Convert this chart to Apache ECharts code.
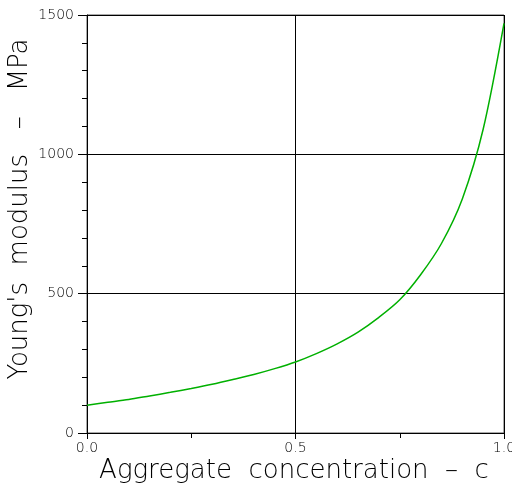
<!DOCTYPE html>
<html>
<head>
<meta charset="utf-8">
<script src="https://cdn.jsdelivr.net/npm/echarts@6/dist/echarts.min.js"></script>
<style>
  html, body { margin: 0; padding: 0; background: #fff; }
  #chart { width: 512px; height: 486px; }
</style>
</head>
<body>
<div id="chart"></div>
<script>
// aggregate concentration c and Young's modulus (MPa)
const concentration = [0, 0.05, 0.1, 0.15, 0.2, 0.25, 0.3, 0.35, 0.4, 0.45, 0.5, 0.55, 0.6, 0.65, 0.7, 0.75, 0.8, 0.85, 0.9, 0.95, 1.0];
const modulus = [100, 110, 120, 133, 146, 160, 175, 192, 210, 231, 255, 285, 320, 362, 415, 478, 568, 680, 840, 1090, 1470];
const yTicks = [0, 500, 1000, 1500];
const xTicks = [0, 0.5, 1.0];

const font = "DejaVu Sans";
const chart = echarts.init(document.getElementById("chart"));

chart.setOption({
  backgroundColor: "#fff",
  animation: false,
  grid: {
    left: 87,
    right: 8,
    top: 15,
    bottom: 53,
    outerBoundsMode: "none",
    containLabel: false,
    show: true,
    borderColor: "#555",
    borderWidth: 1,
  },
  xAxis: {
    type: "value",
    min: xTicks[0],
    max: xTicks[xTicks.length - 1],
    interval: 0.5,
    axisLine: { lineStyle: { color: "#000", width: 1 } },
    axisTick: { show: true, length: 6, lineStyle: { color: "#000" } },
    minorTick: { show: true, splitNumber: 2, length: 5, lineStyle: { color: "#000" } },
    splitLine: { show: true, lineStyle: { color: "#000", width: 1 } },
    axisLabel: {
      color: "#000",
      fontFamily: font,
      fontWeight: 200,
      fontSize: 14,
      margin: 8,
      formatter: (v) => v.toFixed(1),
    },
  },
  yAxis: {
    type: "value",
    min: yTicks[0],
    max: yTicks[yTicks.length - 1],
    interval: 500,
    axisLine: { show: true, lineStyle: { color: "#000", width: 1 } },
    axisTick: { show: true, length: 9, lineStyle: { color: "#000" } },
    minorTick: { show: true, splitNumber: 5, length: 5, lineStyle: { color: "#000" } },
    splitLine: { show: true, lineStyle: { color: "#000", width: 1 } },
    axisLabel: {
      color: "#000",
      fontFamily: font,
      fontWeight: 200,
      fontSize: 14,
      margin: 13,
      formatter: (v) => String(v),
    },
  },
  graphic: [
    {
      type: "text",
      x: 294,
      y: 471,
      style: {
        text: "Aggregate  concentration  \u2013  c",
        fontFamily: font,
        fontWeight: 200,
        fontSize: 26,
        fill: "#000",
        align: "center",
        verticalAlign: "middle",
      },
    },
    {
      type: "text",
      x: 20,
      y: 209,
      rotation: Math.PI / 2,
      style: {
        text: "Young's  modulus   \u2013   MPa",
        fontFamily: font,
        fontWeight: 200,
        fontSize: 26,
        fill: "#000",
        align: "center",
        verticalAlign: "middle",
      },
    },
  ],
  series: [
    {
      type: "line",
      data: concentration.map((c, i) => [c, modulus[i]]),
      smooth: 0.3,
      showSymbol: false,
      lineStyle: { color: "#00b000", width: 1.5 },
    },
  ],
});
</script>
</body>
</html>
